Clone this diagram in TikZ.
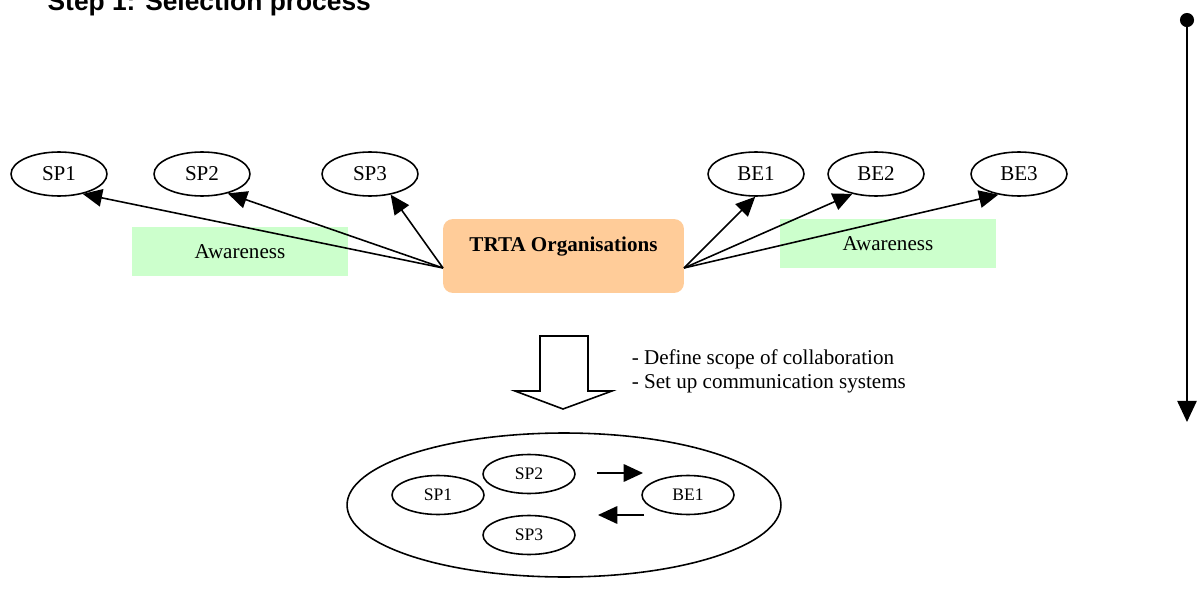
\documentclass[tikz,border=0pt]{standalone}
\usepackage{fontspec}
\setmainfont{Liberation Serif}
\newfontfamily\titlefont{Liberation Sans}
\usetikzlibrary{shapes,arrows.meta}
\definecolor{awaregreen}{HTML}{CCFFCC}
\definecolor{trtapeach}{HTML}{FFCC99}

\begin{document}
\begin{tikzpicture}[x=0.02cm, y=-0.02cm, line width=0.9pt,
    party/.style={draw, ellipse, minimum width=1.92cm, minimum height=0.88cm, inner sep=0pt, font=\fontsize{12}{14}\selectfont},
    member/.style={draw, ellipse, minimum width=1.84cm, minimum height=0.78cm, inner sep=0pt, font=\fontsize{10}{12}\selectfont},
    awarebox/.style={fill=awaregreen, minimum width=4.34cm, minimum height=0.98cm, inner sep=0pt, font=\fontsize{12}{14}\selectfont},
    trtabox/.style={fill=trtapeach, rounded corners=0.2cm, minimum width=4.82cm, minimum height=1.48cm, inner sep=0pt},
    bigtip/.style={-{Triangle[length=11pt, width=10pt]}}]
  \useasboundingbox (0,0) rectangle (1197,598);
  \clip (0,0) rectangle (1197,598);

  \node[anchor=base west, font=\titlefont\bfseries\fontsize{15}{18}\selectfont] (title) at (41,11) {Step 1: Selection process};

  \node[awarebox] (awareL) at (240,251.5) {Awareness};
  \node[awarebox] (awareR) at (888,243.5) {Awareness};
  \node[trtabox] (trta) at (563.5,256) {};
  \node[font=\bfseries\fontsize{12}{14}\selectfont] (trtatext) at (563.5,247) {TRTA Organisations};

  \node[party] (sp1) at (59,174) {SP1};
  \node[party] (sp2) at (202,174) {SP2};
  \node[party] (sp3) at (370,174) {SP3};
  \node[party] (be1) at (756,174) {BE1};
  \node[party] (be2) at (876,174) {BE2};
  \node[party] (be3) at (1019,174) {BE3};

  \coordinate (fanL) at (443,268);
  \coordinate (fanR) at (684,268);
  \draw[bigtip] (fanL) -- (sp1.-40);
  \draw[bigtip] (fanL) -- (sp2.-37);
  \draw[bigtip] (fanL) -- (sp3.-45);
  \draw[bigtip] (fanR) -- (be1.-92);
  \draw[bigtip] (fanR) -- (be2.-140);
  \draw[bigtip] (fanR) -- (be3.-135);

  % block arrow
  \draw (540,336) -- (588,336) -- (588,391) -- (612,391) -- (563,409) -- (515,391) -- (540,391) -- cycle;
  \node[anchor=west, align=left, inner sep=0pt, font=\fontsize{12}{13.6}\selectfont] (tasks) at (631,371)
    {- Define scope of collaboration\\- Set up communication systems};

  \node[draw, ellipse, minimum width=8.68cm, minimum height=2.88cm, inner sep=0pt] (group) at (564,505) {};
  \node[member] (gsp1) at (438,495) {SP1};
  \node[member] (gsp2) at (529,474) {SP2};
  \node[member] (gsp3) at (529,535) {SP3};
  \node[member] (gbe1) at (688,495) {BE1};
  \coordinate (toA) at (597,473);
  \coordinate (toB) at (643,473);
  \coordinate (backA) at (644,515);
  \coordinate (backB) at (598,515);
  \draw[bigtip] (toA) -- (toB);
  \draw[bigtip] (backA) -- (backB);

  \coordinate (timeTop) at (1187,13);
  \coordinate (timeEnd) at (1187,422);
  \draw[{Circle[length=8pt]}-{Triangle[length=12pt, width=11pt]}] (timeTop) -- (timeEnd);
\end{tikzpicture}
\end{document}
